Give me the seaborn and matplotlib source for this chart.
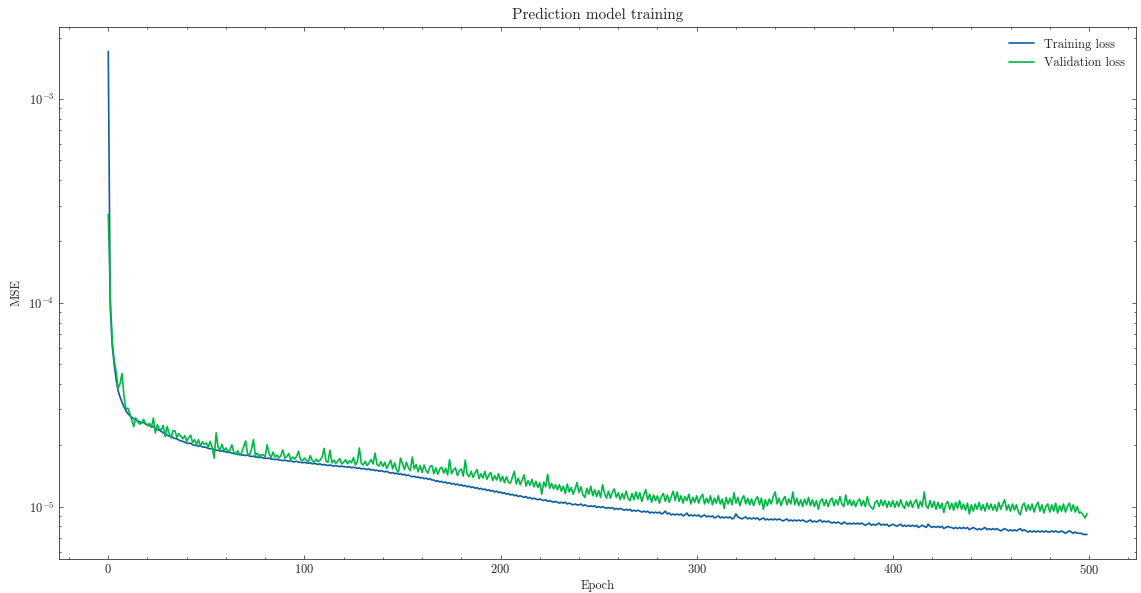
import numpy as np
import pandas as pd
import matplotlib
matplotlib.use("Agg")
import matplotlib.pyplot as plt
import seaborn as sns

# loss values, in units of 1e-6 (MSE)
train_mse_e6 = [
    1710, 95, 62, 50, 42, 37, 34.5, 32.5, 31, 29.5,
    28.6, 28.0, 27.4, 27.0, 26.7, 26.3, 26.1, 25.8, 25.9, 25.4,
    25.3, 25.0, 24.6, 24.7, 24.2, 23.9, 23.7, 23.4, 23.0, 22.8,
    22.4, 22.2, 22.1, 21.8, 21.6, 21.5, 21.2, 21.0, 20.9, 20.7,
    20.5, 20.4, 20.5, 20.1, 20.0, 19.9, 19.8, 19.9, 19.6, 19.6,
    19.5, 19.3, 19.2, 19.3, 19.0, 18.9, 18.9, 18.7, 18.8, 18.6,
    18.6, 18.4, 18.5, 18.3, 18.2, 18.2, 18.0, 18.1, 17.9, 17.9,
    17.8, 17.9, 17.7, 17.6, 17.7, 17.5, 17.5, 17.4, 17.5, 17.3,
    17.3, 17.2, 17.3, 17.1, 17.1, 17.0, 17.1, 16.9, 16.9, 16.8,
    16.9, 16.8, 16.7, 16.8, 16.6, 16.6, 16.7, 16.5, 16.5, 16.4,
    16.5, 16.4, 16.3, 16.4, 16.2, 16.3, 16.2, 16.1, 16.2, 16.0,
    16.1, 16.0, 15.9, 16.0, 15.9, 15.8, 15.9, 15.8, 15.7, 15.8,
    15.7, 15.7, 15.6, 15.7, 15.5, 15.6, 15.5, 15.4, 15.5, 15.3,
    15.4, 15.3, 15.2, 15.3, 15.1, 15.2, 15.0, 15.1, 14.9, 15.0,
    14.9, 14.8, 14.9, 14.7, 14.6, 14.7, 14.5, 14.6, 14.4, 14.5,
    14.3, 14.4, 14.2, 14.3, 14.1, 14.0, 14.1, 13.9, 14.0, 13.8,
    13.9, 13.7, 13.8, 13.6, 13.7, 13.5, 13.5, 13.3, 13.4, 13.2,
    13.3, 13.1, 13.2, 13.0, 13.1, 12.9, 13.0, 12.8, 12.9, 12.7,
    12.8, 12.6, 12.7, 12.5, 12.6, 12.4, 12.5, 12.3, 12.4, 12.2,
    12.3, 12.1, 12.2, 12.0, 12.1, 11.9, 12.0, 11.8, 11.9, 11.7,
    11.8, 11.6, 11.7, 11.5, 11.6, 11.4, 11.5, 11.3, 11.4, 11.2,
    11.3, 11.2, 11.1, 11.2, 11.0, 11.1, 10.9, 11.0, 10.9, 10.8,
    10.9, 10.8, 10.7, 10.8, 10.6, 10.7, 10.6, 10.5, 10.6, 10.5,
    10.4, 10.5, 10.4, 10.5, 10.3, 10.4, 10.3, 10.2, 10.3, 10.2,
    10.2, 10.3, 10.1, 10.2, 10.1, 10.0, 10.1, 10.0, 10.1, 9.9,
    10.0, 9.9, 10.0, 9.9, 9.8, 9.9, 9.8, 9.9, 9.7, 9.8,
    9.7, 9.8, 9.7, 9.6, 9.7, 9.6, 9.7, 9.5, 9.6, 9.5,
    9.6, 9.5, 9.4, 9.5, 9.4, 9.5, 9.3, 9.4, 9.3, 9.4,
    9.3, 9.4, 9.2, 9.3, 9.5, 9.2, 9.3, 9.1, 9.2, 9.1,
    9.2, 9.1, 9.2, 9.0, 9.1, 9.3, 9.0, 9.1, 9.0, 9.1,
    9.0, 9.1, 8.9, 9.0, 9.1, 8.9, 9.0, 8.9, 9.0, 8.8,
    8.9, 9.0, 8.8, 8.9, 8.8, 8.9, 8.8, 8.9, 8.7, 8.8,
    9.2, 8.9, 8.8, 8.7, 8.8, 8.9, 8.7, 8.8, 8.7, 8.8,
    8.7, 8.8, 8.6, 8.7, 8.8, 8.6, 8.7, 8.6, 8.7, 8.6,
    8.7, 8.6, 8.7, 8.6, 8.5, 8.6, 8.7, 8.5, 8.6, 8.5,
    8.6, 8.5, 8.6, 8.5, 8.6, 8.5, 8.4, 8.5, 8.6, 8.4,
    8.5, 8.4, 8.5, 8.6, 8.4, 8.5, 8.4, 8.5, 8.4, 8.3,
    8.4, 8.3, 8.4, 8.3, 8.2, 8.4, 8.3, 8.2, 8.3, 8.2,
    8.3, 8.2, 8.3, 8.2, 8.3, 8.2, 8.1, 8.2, 8.3, 8.1,
    8.2, 8.1, 8.2, 8.3, 8.1, 8.2, 8.1, 8.2, 8.0, 8.1,
    8.2, 8.1, 8.0, 8.1, 8.2, 8.0, 8.1, 8.0, 8.1, 8.0,
    8.1, 8.0, 8.1, 7.9, 8.0, 8.1, 8.0, 7.9, 8.2, 8.0,
    7.9, 8.0, 7.9, 8.0, 7.9, 8.0, 7.8, 7.9, 8.0, 7.9,
    7.9, 7.8, 7.9, 7.8, 7.9, 7.8, 7.9, 7.8, 7.9, 7.7,
    7.8, 7.9, 7.8, 7.7, 7.8, 7.7, 7.8, 7.9, 7.7, 7.8,
    7.7, 7.8, 7.7, 7.8, 7.7, 7.6, 7.7, 7.8, 7.7, 7.6,
    7.7, 7.6, 7.7, 7.6, 7.7, 7.8, 7.6, 7.7, 7.6, 7.5,
    7.6, 7.5, 7.6, 7.5, 7.6, 7.5, 7.6, 7.5, 7.6, 7.5,
    7.5, 7.6, 7.5, 7.6, 7.5, 7.5, 7.6, 7.5, 7.4, 7.5,
    7.6, 7.5, 7.4, 7.5, 7.4, 7.4, 7.4, 7.3, 7.3, 7.3,
]

val_mse_e6 = [
    272, 108, 66, 52, 46, 38, 40, 45, 35, 30,
    30.4, 28.5, 26.5, 24.7, 27.2, 26.0, 25.4, 25.7, 26.8, 25.5,
    24.9, 25.6, 24.5, 27.2, 23.0, 25.2, 24.1, 23.8, 25.0, 22.1,
    24.7, 22.9, 21.7, 23.6, 23.5, 21.9, 22.8, 22.1, 21.5, 22.3,
    20.9, 21.8, 22.4, 20.6, 21.3, 20.1, 21.3, 19.8, 20.8, 20.2,
    20.5, 19.6, 20.9, 19.4, 17.3, 23.0, 19.5, 19.1, 20.2, 18.8,
    19.4, 18.6, 18.9, 20.1, 18.5, 18.1, 18.8, 17.9, 18.4, 19.6,
    21.0, 18.2, 17.9, 19.1, 21.3, 17.8, 18.3, 17.6, 18.0, 17.9,
    17.6, 20.1, 18.2, 17.4, 18.5, 17.5, 17.9, 17.3, 17.8, 19.0,
    17.3, 17.6, 18.2, 17.0, 17.5, 17.1, 17.6, 18.7, 17.0, 16.8,
    17.3, 16.9, 16.6, 17.8, 16.8, 16.5, 17.1, 16.6, 16.9, 17.5,
    19.3, 16.7, 16.5, 18.9, 16.4, 16.9, 16.3, 16.7, 17.2, 16.2,
    16.5, 17.0, 16.2, 16.8, 16.4, 17.4, 16.0, 16.6, 19.4, 16.3,
    16.0, 16.7, 15.9, 16.4, 17.0, 16.2, 18.3, 16.1, 15.8, 16.6,
    15.7, 16.5, 15.4, 16.1, 16.9, 15.3, 16.4, 15.1, 14.8, 17.3,
    16.2, 15.2, 16.5, 15.5, 15.0, 17.5, 15.3, 16.1, 14.8, 15.9,
    14.7, 16.0, 15.0, 14.6, 15.7, 15.9, 14.5, 15.5, 14.4, 15.3,
    15.6, 14.6, 15.4, 14.3, 17.0, 14.5, 15.1, 15.5, 14.2, 15.0,
    15.3, 14.1, 16.9, 14.4, 14.0, 14.9, 13.9, 14.6, 15.2, 13.7,
    14.5, 13.8, 14.9, 13.6, 14.3, 14.7, 13.4, 14.2, 13.5, 14.5,
    13.3, 14.1, 13.1, 14.0, 13.2, 13.0, 13.9, 14.9, 12.9, 13.8,
    12.8, 13.5, 14.3, 12.6, 13.4, 12.7, 13.6, 12.5, 13.3, 12.4,
    13.1, 11.5, 13.2, 12.5, 14.4, 12.3, 13.0, 12.2, 12.8, 12.1,
    12.8, 11.9, 12.6, 11.6, 12.9, 11.8, 12.4, 11.5, 12.2, 13.1,
    11.7, 12.5, 11.4, 11.1, 12.3, 11.5, 12.6, 11.3, 12.1, 11.2,
    12.0, 11.1, 12.8, 11.6, 11.0, 11.9, 11.0, 11.8, 12.2, 11.1,
    11.7, 10.8, 11.6, 10.9, 11.9, 11.0, 10.7, 11.6, 10.8, 11.8,
    10.9, 11.7, 10.6, 11.4, 12.1, 10.8, 11.5, 10.5, 11.4, 10.7,
    11.3, 10.4, 11.2, 11.6, 10.6, 11.4, 10.5, 11.2, 11.9, 10.7,
    11.8, 10.6, 11.3, 10.4, 11.2, 10.7, 11.5, 10.3, 11.1, 10.5,
    11.3, 10.4, 11.1, 11.5, 10.3, 11.0, 10.4, 11.3, 10.2, 11.0,
    10.4, 11.3, 10.3, 10.9, 9.8, 11.1, 10.3, 11.0, 10.2, 11.7,
    10.4, 11.1, 10.1, 10.9, 11.3, 10.3, 11.0, 10.2, 10.9, 10.1,
    10.8, 11.2, 10.2, 11.0, 9.7, 10.8, 10.1, 10.9, 10.3, 11.2,
    11.8, 10.3, 11.0, 10.1, 10.8, 11.2, 10.2, 10.9, 10.3, 11.8,
    10.2, 11.0, 10.1, 10.8, 10.0, 10.9, 10.2, 11.1, 10.1, 10.8,
    10.0, 10.7, 9.7, 10.6, 10.9, 10.1, 10.8, 10.0, 10.7, 11.0,
    10.1, 10.8, 10.2, 11.2, 10.3, 10.0, 11.4, 10.2, 10.8, 10.1,
    10.7, 10.0, 10.6, 10.9, 10.1, 10.7, 10.0, 11.2, 10.2, 9.9,
    9.7, 10.5, 10.7, 10.0, 10.8, 10.1, 10.7, 9.9, 10.6, 10.0,
    10.7, 9.9, 10.6, 10.0, 10.8, 10.1, 9.8, 10.6, 10.0, 10.7,
    9.9, 10.5, 10.8, 9.8, 10.6, 10.0, 11.8, 10.1, 9.8, 10.7,
    9.9, 10.6, 9.7, 10.5, 9.8, 10.4, 9.35, 10.3, 10.6, 9.7,
    10.4, 9.6, 10.5, 9.8, 10.7, 9.7, 10.3, 9.6, 10.4, 9.2,
    10.2, 9.5, 10.3, 9.7, 10.5, 9.6, 10.2, 9.5, 10.4, 9.7,
    10.3, 9.6, 10.2, 9.5, 10.5, 9.7, 10.3, 10.8, 9.6, 10.2,
    9.5, 10.3, 9.6, 10.2, 9.4, 9.1, 10.1, 10.4, 9.5, 10.2,
    9.6, 10.3, 9.4, 10.1, 10.5, 9.5, 10.2, 9.3, 10.0, 10.3,
    9.4, 10.2, 9.5, 10.4, 9.3, 10.1, 9.5, 10.3, 9.4, 10.0,
    10.4, 9.5, 10.2, 9.4, 10.0, 9.3, 9.4, 9.1, 8.8, 9.25,
]

epochs = np.arange(len(train_mse_e6))

df = pd.DataFrame({
    "epoch": epochs,
    "train": np.array(train_mse_e6) * 1e-6,
    "val": np.array(val_mse_e6) * 1e-6,
})

sns.set_theme(style="ticks")
plt.rcParams.update({
    "font.family": ["cmr10", "DejaVu Serif"],
    "mathtext.fontset": "cm",
    "axes.formatter.use_mathtext": True,
    "axes.unicode_minus": False,
    "font.size": 9,
    "axes.labelsize": 9,
    "axes.titlesize": 11,
    "xtick.labelsize": 9,
    "ytick.labelsize": 9,
    "legend.fontsize": 9,
    "axes.linewidth": 0.6,
    "axes.edgecolor": "#333333",
    "xtick.direction": "in",
    "ytick.direction": "in",
    "xtick.top": True,
    "ytick.right": True,
    "xtick.minor.visible": True,
    "ytick.minor.visible": True,
    "xtick.major.size": 3,
    "ytick.major.size": 3,
    "xtick.minor.size": 1.5,
    "ytick.minor.size": 1.5,
    "xtick.major.width": 0.5,
    "ytick.major.width": 0.5,
    "xtick.minor.width": 0.5,
    "ytick.minor.width": 0.5,
})

fig, ax = plt.subplots(figsize=(11.41, 5.93), dpi=100)
fig.subplots_adjust(left=0.052, right=0.9956, top=0.954, bottom=0.058)

sns.lineplot(data=df, x="epoch", y="train", ax=ax, color="#0C5DA5",
             linewidth=1.2, label="Training loss", estimator=None)
sns.lineplot(data=df, x="epoch", y="val", ax=ax, color="#00B945",
             linewidth=1.2, label="Validation loss", estimator=None)

ax.set_yscale("log")
ax.set_title("Prediction model training")
ax.set_xlabel("Epoch", labelpad=2)
ax.set_ylabel("MSE")
ax.legend(loc="upper right", frameon=False)

fig.savefig("out.png", dpi=100)
